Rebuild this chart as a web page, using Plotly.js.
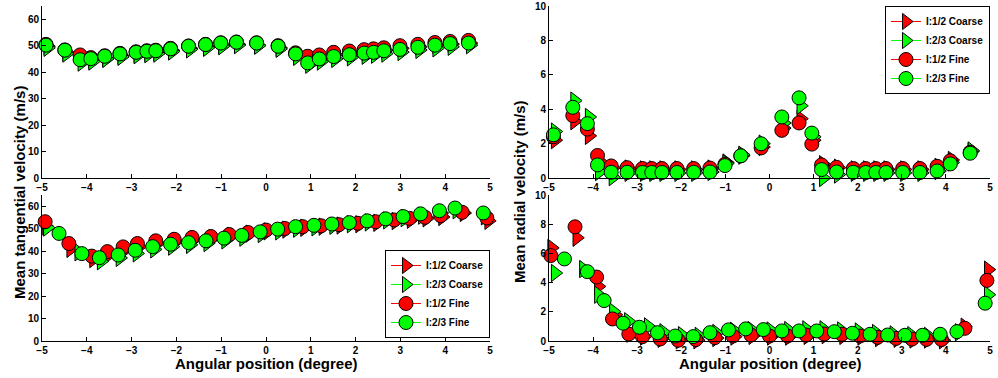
<!DOCTYPE html>
<html><head><meta charset="utf-8">
<script src="https://cdn.plot.ly/plotly-3.0.1.min.js"></script>
<style>html,body{margin:0;padding:0;background:#fff}#c{width:998px;height:378px}</style>
</head><body><div id="c"></div>
<script>
// Series names and colours
const seriesNames = ['I:1/2 Coarse','I:2/3 Coarse','I:1/2 Fine','I:2/3 Fine'];
const seriesColors = ['#ff0000','#00ff00','#ff0000','#00ff00'];
const seriesSymbols = ['triangle-right','triangle-right','circle','circle'];

// ---- Top-left: mean tangential velocity (upper set)
const tlRedCoarseX = [-4.87,-4.45,-4.11,-3.87,-3.56,-3.22,-2.86,-2.62,-2.42,-2.09,-1.69,-1.31,-0.97,-0.62,-0.17,0.31,0.70,0.97,1.23,1.55,1.90,2.23,2.44,2.67,3.03,3.43,3.81,4.15,4.56];
const tlRedCoarseY = [49.8,47.5,45.5,44.5,45.2,46.2,46.8,47.2,47.5,48.2,49.0,49.6,50.2,50.5,50.2,49.2,46.5,45.0,45.5,46.6,47.0,47.6,48.0,48.3,49.0,49.6,50.2,50.6,51.0];
const tlGreenCoarseX = [-4.87,-4.45,-4.11,-3.87,-3.56,-3.22,-2.86,-2.62,-2.42,-2.09,-1.69,-1.31,-0.97,-0.62,-0.17,0.31,0.70,0.97,1.23,1.55,1.90,2.23,2.44,2.67,3.03,3.43,3.81,4.15,4.56];
const tlGreenCoarseY = [49.2,47.0,43.6,44.0,45.0,45.8,46.4,46.8,47.0,47.8,48.6,49.2,49.8,50.2,50.0,48.8,45.8,42.8,44.0,45.0,45.6,46.2,46.6,47.0,47.6,48.4,49.0,49.6,50.2];
const tlFineX = [-4.91,-4.49,-4.15,-3.91,-3.60,-3.26,-2.90,-2.66,-2.46,-2.13,-1.73,-1.35,-1.01,-0.66,-0.21,0.27,0.66,0.93,1.19,1.51,1.86,2.19,2.40,2.63,2.99,3.39,3.77,4.11,4.52];
const tlRedFineY = [50.5,48.4,46.5,45.5,46.2,47.1,47.7,48.1,48.3,49.0,49.9,50.5,51.1,51.4,51.1,50.0,47.3,46.0,46.5,47.5,48.0,48.5,48.8,49.2,50.0,50.5,51.2,51.6,52.0];
const tlGreenFineY = [50.2,48.3,44.7,45.1,46.0,46.9,47.5,47.9,48.1,48.8,49.8,50.4,51.0,51.3,51.0,49.8,46.9,43.5,45.0,45.9,46.6,47.2,47.5,48.1,48.6,49.4,50.2,50.8,51.0];

// ---- Bottom-left: mean tangential velocity (lower set)
const blRedCoarseX = [-4.90,-4.36,-3.85,-3.50,-3.15,-2.83,-2.42,-2.01,-1.61,-1.19,-0.78,-0.36,0.04,0.46,0.86,1.27,1.67,2.09,2.49,2.90,3.24,3.59,3.94,4.42,4.97];
const blRedCoarseY = [51.0,41.0,36.5,38.5,40.5,42.0,43.5,44.3,45.2,45.8,46.8,47.8,48.8,49.6,50.4,50.9,51.4,52.0,52.6,53.4,54.0,54.6,55.2,57.0,53.5];
const blGreenCoarseX = [-4.88,-4.18,-3.68,-3.26,-2.88,-2.49,-2.09,-1.69,-1.30,-0.90,-0.50,-0.09,0.30,0.70,1.11,1.51,1.90,2.30,2.71,3.10,3.49,3.91,4.26,4.89];
const blGreenCoarseY = [50.5,39.5,35.5,37.0,39.0,40.8,42.0,42.8,43.6,44.8,46.0,47.6,48.8,50.0,50.6,51.3,52.0,52.8,53.7,54.7,55.8,57.0,58.2,55.5];
const blRedFineX = [-4.93,-4.40,-3.89,-3.54,-3.19,-2.87,-2.46,-2.05,-1.65,-1.23,-0.82,-0.40,0.00,0.42,0.82,1.23,1.63,2.05,2.45,2.86,3.20,3.55,3.90,4.38,4.93];
const blRedFineY = [53.1,43.4,37.8,39.8,41.9,43.4,44.6,45.3,46.1,46.5,47.4,48.3,49.4,50.1,50.9,51.3,51.8,52.4,53.1,53.9,54.6,55.1,55.8,57.3,54.8];
const blGreenFineX = [-4.62,-4.11,-3.72,-3.30,-2.92,-2.53,-2.13,-1.73,-1.34,-0.94,-0.54,-0.13,0.26,0.66,1.07,1.47,1.86,2.26,2.67,3.06,3.45,3.87,4.22,4.85];
const blGreenFineY = [47.9,38.9,37.1,38.3,40.4,42.0,43.1,43.8,44.6,45.8,47.0,48.6,49.8,50.9,51.5,52.1,52.7,53.5,54.4,55.4,56.6,58.0,59.2,57.0];

// ---- Top-right: mean radial velocity (upper set)
const trCoarseX = [-4.86,-4.42,-4.09,-3.86,-3.55,-3.19,-2.84,-2.63,-2.40,-2.06,-1.68,-1.31,-0.97,-0.61,-0.15,0.32,0.71,1.00,1.22,1.56,1.94,2.22,2.45,2.68,3.06,3.45,3.84,4.14,4.59];
const trRedCoarseY = [2.2,3.3,2.45,1.0,0.6,0.55,0.5,0.5,0.5,0.5,0.5,0.55,0.9,1.3,1.8,2.9,3.45,2.2,0.8,0.6,0.5,0.5,0.5,0.5,0.5,0.5,0.65,1.05,1.55];
const trGreenCoarseY = [2.7,4.5,3.55,0.35,0.05,0.3,0.3,0.3,0.3,0.3,0.3,0.35,0.85,1.35,2.0,3.2,4.2,2.4,0.0,0.2,0.3,0.3,0.3,0.3,0.3,0.3,0.4,0.9,1.6];
const trFineX = [-4.90,-4.46,-4.13,-3.90,-3.59,-3.23,-2.88,-2.67,-2.44,-2.10,-1.72,-1.35,-1.01,-0.65,-0.19,0.28,0.67,0.96,1.18,1.52,1.90,2.18,2.41,2.64,3.02,3.41,3.80,4.10,4.55];
const trRedFineY = [2.4,3.63,2.84,1.31,0.70,0.60,0.55,0.55,0.55,0.55,0.55,0.58,0.80,1.29,1.75,2.77,3.20,1.97,0.76,0.62,0.55,0.55,0.55,0.55,0.55,0.55,0.68,1.00,1.50];
const trGreenFineY = [2.51,4.11,3.16,0.76,0.33,0.33,0.32,0.32,0.32,0.32,0.33,0.35,0.72,1.29,1.99,3.55,4.66,2.61,0.49,0.35,0.33,0.32,0.32,0.32,0.32,0.32,0.41,0.82,1.44];

// ---- Bottom-right: mean radial velocity (lower set)
const brRedCoarseX = [-4.94,-4.37,-3.88,-3.50,-3.15,-2.84,-2.44,-2.03,-1.63,-1.20,-0.79,-0.38,0.04,0.45,0.87,1.28,1.68,2.09,2.49,2.91,3.27,3.60,3.94,4.43,4.96];
const brRedCoarseY = [6.38,7.07,3.74,1.8,0.5,0.3,0.15,0.05,0.05,0.2,0.3,0.35,0.3,0.3,0.35,0.4,0.35,0.3,0.2,0.15,0.1,0.1,0.05,0.98,4.89];
const brGreenCoarseX = [-4.86,-4.22,-3.88,-3.54,-3.20,-2.75,-2.40,-1.98,-1.60,-1.20,-0.80,-0.40,0.03,0.43,0.84,1.23,1.63,2.03,2.42,2.82,3.22,3.60,4.30,4.96];
const brGreenCoarseY = [4.66,4.93,3.17,2.02,1.35,1.0,0.6,0.4,0.35,0.55,0.7,0.75,0.72,0.75,0.8,0.8,0.72,0.65,0.55,0.45,0.4,0.35,0.6,3.17];
const brRedFineX = [-4.96,-4.41,-3.92,-3.56,-3.19,-2.88,-2.48,-2.07,-1.67,-1.24,-0.83,-0.42,0.00,0.41,0.83,1.24,1.64,2.05,2.45,2.87,3.23,3.56,3.90,4.43,4.93];
const brRedFineY = [5.85,7.82,4.38,1.51,0.48,0.30,0.14,0.05,0.10,0.23,0.34,0.41,0.34,0.34,0.41,0.48,0.46,0.34,0.25,0.18,0.13,0.11,0.10,0.87,4.15];
const brGreenFineX = [-4.65,-4.13,-3.75,-3.32,-2.95,-2.54,-2.14,-1.73,-1.35,-0.93,-0.54,-0.14,0.28,0.67,1.07,1.47,1.88,2.28,2.68,3.07,3.47,3.87,4.25,4.89];
const brGreenFineY = [5.62,4.75,2.77,1.22,0.94,0.57,0.34,0.30,0.57,0.76,0.83,0.78,0.69,0.69,0.69,0.64,0.53,0.46,0.41,0.39,0.39,0.46,0.64,2.59];

// Axis labels
const xTitle = 'Angular position (degree)';
const yTitleLeft = 'Mean tangential velocity (m/s)';
const yTitleRight = 'Mean radial velocity (m/s)';

const panels = [
  {xa:'x',  ya:'y',  data:[[tlRedCoarseX,tlRedCoarseY],[tlGreenCoarseX,tlGreenCoarseY],[tlFineX,tlRedFineY],[tlFineX,tlGreenFineY]]},
  {xa:'x2', ya:'y2', data:[[blRedCoarseX,blRedCoarseY],[blGreenCoarseX,blGreenCoarseY],[blRedFineX,blRedFineY],[blGreenFineX,blGreenFineY]]},
  {xa:'x3', ya:'y3', data:[[trCoarseX,trRedCoarseY],[trCoarseX,trGreenCoarseY],[trFineX,trRedFineY],[trFineX,trGreenFineY]]},
  {xa:'x4', ya:'y4', data:[[brRedCoarseX,brRedCoarseY],[brGreenCoarseX,brGreenCoarseY],[brRedFineX,brRedFineY],[brGreenFineX,brGreenFineY]]}
];

const traces = [];
panels.forEach(p => {
  p.data.forEach((d, i) => {
    traces.push({
      type:'scatter', mode:'markers', x:d[0], y:d[1], xaxis:p.xa, yaxis:p.ya,
      showlegend:false, cliponaxis:false, hoverinfo:'skip',
      marker:{symbol:seriesSymbols[i], color:seriesColors[i], size: i<2 ? 15 : 14, line:{color:'#000', width:1}}
    });
  });
});
// legend entries (no data points)
['legend','legend2'].forEach((lg, k) => {
  seriesNames.forEach((n, i) => {
    traces.push({
      type:'scatter', mode:'lines+markers', x:[null], y:[null],
      xaxis: k===0 ? 'x2' : 'x3', yaxis: k===0 ? 'y2' : 'y3',
      name:n, legend:lg, showlegend:true, hoverinfo:'skip',
      line:{color:seriesColors[i], width:1},
      marker:{symbol:seriesSymbols[i], color:seriesColors[i], size: 14, line:{color:'#000', width:1}}
    });
  });
});

const tickFont = {family:'Liberation Sans, Arial, sans-serif', size:10, color:'#000', weight:'bold'};
function xax(dom, anchor){
  return {domain:dom, anchor:anchor, range:[-5,5], dtick:1, tick0:-5, showline:true, linecolor:'#000', linewidth:1,
    ticks:'inside', ticklen:4, tickcolor:'#000', showgrid:false, zeroline:false, tickfont:tickFont, automargin:false, fixedrange:true};
}
function yax(dom, anchor, rng, dt){
  return {domain:dom, anchor:anchor, range:rng, dtick:dt, tick0:0, showline:true, linecolor:'#000', linewidth:1,
    ticks:'inside', ticklen:4, tickcolor:'#000', showgrid:false, zeroline:false, tickfont:tickFont, automargin:false, fixedrange:true};
}
const W=998, H=378;
const lx=[42/W, 490/W], rx=[549/W, 990/W];
const ty=[(H-178)/H, (H-6)/H], by=[(H-341)/H, (H-195)/H];
const titleFont = {family:'Liberation Sans, Arial, sans-serif', size:15, color:'#000', weight:'bold'};
const legFont = {family:'Liberation Sans, Arial, sans-serif', size:10, color:'#000', weight:'bold'};

const layout = {
  width:W, height:H, margin:{l:0,r:0,t:0,b:0}, paper_bgcolor:'#fff', plot_bgcolor:'#fff',
  xaxis:xax(lx,'y'), yaxis:yax(ty,'x',[0,65],10),
  xaxis2:xax(lx,'y2'), yaxis2:yax(by,'x2',[0,65],10),
  xaxis3:xax(rx,'y3'), yaxis3:yax(ty,'x3',[0,10],2),
  xaxis4:xax(rx,'y4'), yaxis4:yax(by,'x4',[0,10],2),
  legend:{x:490/W, y:(H-338)/H, xanchor:'right', yanchor:'bottom', bgcolor:'#fff', bordercolor:'#000', borderwidth:1, font:legFont, itemwidth:30, tracegroupgap:0},
  legend2:{x:990/W, y:(H-6)/H, xanchor:'right', yanchor:'top', bgcolor:'#fff', bordercolor:'#000', borderwidth:1, font:legFont, itemwidth:30, tracegroupgap:0},
  annotations:[
    {text:xTitle, xref:'paper', yref:'paper', x:266/W, y:(H-363)/H, xanchor:'center', yanchor:'middle', showarrow:false, font:titleFont},
    {text:xTitle, xref:'paper', yref:'paper', x:770/W, y:(H-363)/H, xanchor:'center', yanchor:'middle', showarrow:false, font:titleFont},
    {text:yTitleLeft, xref:'paper', yref:'paper', x:19/W, y:(H-193)/H, xanchor:'center', yanchor:'middle', showarrow:false, textangle:-90, font:titleFont},
    {text:yTitleRight, xref:'paper', yref:'paper', x:519/W, y:(H-192)/H, xanchor:'center', yanchor:'middle', showarrow:false, textangle:-90, font:titleFont}
  ]
};
Plotly.newPlot('c', traces, layout, {staticPlot:true, displayModeBar:false});
</script></body></html>
